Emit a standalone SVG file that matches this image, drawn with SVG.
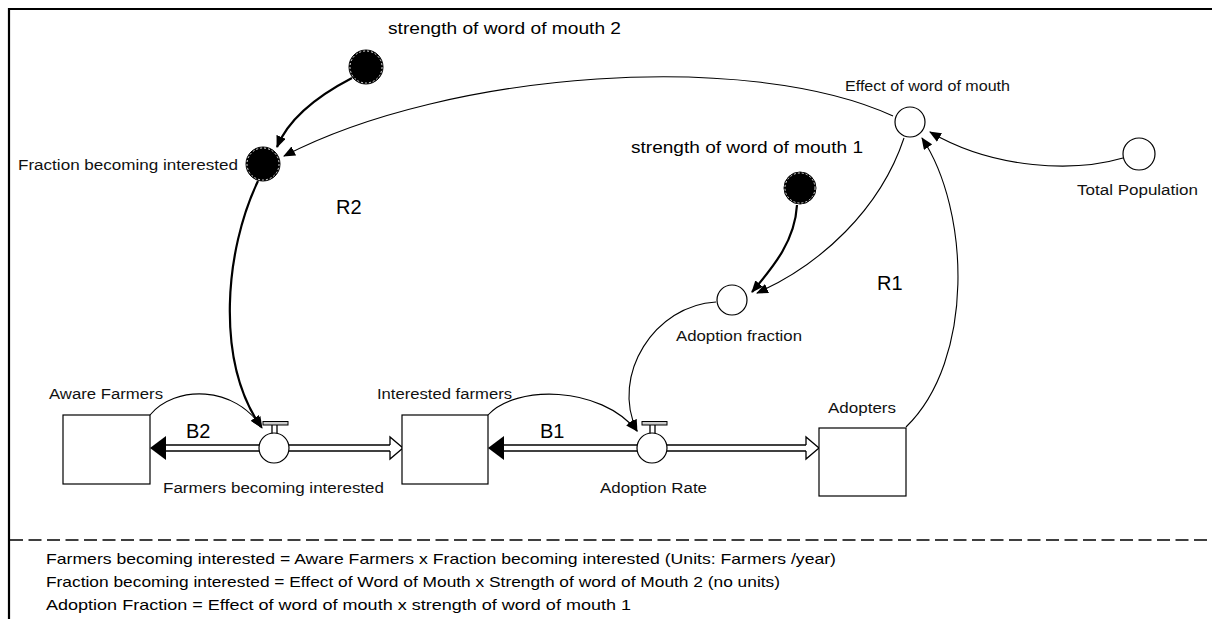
<svg xmlns="http://www.w3.org/2000/svg" width="1212" height="619" viewBox="0 0 1212 619">
<defs>
<style>
.lbl{font-family:"Liberation Sans",Arial,sans-serif;font-size:14px;fill:#111;}
.big{font-family:"Liberation Sans",Arial,sans-serif;font-size:16px;fill:#000;}
.loop{font-family:"Liberation Sans",Arial,sans-serif;font-size:20px;fill:#000;}
.eq{font-family:"Liberation Sans",Arial,sans-serif;font-size:15px;fill:#000;}
.stock{fill:#fff;stroke:#000;stroke-width:1.2;}
.aux{fill:#fff;stroke:#000;stroke-width:1.2;}
.const{fill:#000;stroke:#000;stroke-width:1;}
.constring{fill:none;stroke:#ddd;stroke-width:1;stroke-dasharray:2 2;}
.thin{fill:none;stroke:#000;stroke-width:1.1;}
.thick{fill:none;stroke:#000;stroke-width:2.2;}
.pipe{fill:none;stroke:#000;stroke-width:1.3;}
.bar{fill:#ccc;stroke:#000;stroke-width:1;}
</style>
<marker id="ah" markerWidth="12" markerHeight="10" refX="11" refY="5" orient="auto" markerUnits="userSpaceOnUse">
<path d="M0,0 L12,5 L0,10 z" fill="#000"/>
</marker>
</defs>
<rect x="0" y="0" width="1212" height="619" fill="#fff"/>
<!-- frame -->
<line x1="8" y1="9" x2="1212" y2="9" stroke="#000" stroke-width="2.2"/>
<line x1="9" y1="8" x2="9" y2="619" stroke="#000" stroke-width="2.2"/>
<line x1="10" y1="540" x2="1212" y2="540" stroke="#000" stroke-width="1.4" stroke-dasharray="13 5.5"/>

<g id="connectors">
<path class="thick" d="M352,78 C325,92 290,115 277,147" marker-end="url(#ah)"/>
<path class="thin" d="M893,116 C750,50 450,70 284,156" marker-end="url(#ah)"/>
<path class="thick" d="M258,181 C225,250 215,360 261,427" marker-end="url(#ah)"/>
<path class="thin" d="M150,415 C175,385 235,385 262,428" marker-end="url(#ah)"/>
<path class="thin" d="M488,415 C515,385 600,385 637,431" marker-end="url(#ah)"/>
<path class="thin" d="M716,302 C655,305 610,375 637,431" marker-end="url(#ah)"/>
<path class="thick" d="M797,205 C795,240 775,265 752,292" marker-end="url(#ah)"/>
<path class="thin" d="M904,138 C880,210 820,265 757,293" marker-end="url(#ah)"/>
<path class="thin" d="M906,427 C975,360 970,210 922,138" marker-end="url(#ah)"/>
<path class="thin" d="M1123,158 C1075,172 995,170 930,132" marker-end="url(#ah)"/>
<!-- pipes flow 1 -->
<line class="pipe" x1="164" y1="445" x2="260" y2="445"/>
<line class="pipe" x1="164" y1="451" x2="260" y2="451"/>
<polygon points="150,448 166,436 166,460" fill="#000"/>
<line class="pipe" x1="289" y1="445" x2="390" y2="445"/>
<line class="pipe" x1="289" y1="451" x2="390" y2="451"/>
<polyline class="pipe" points="390,445 390,437 403,448 390,459 390,451" fill="#fff"/>
<!-- pipes flow 2 -->
<line class="pipe" x1="502" y1="445" x2="638" y2="445"/>
<line class="pipe" x1="502" y1="451" x2="638" y2="451"/>
<polygon points="488,448 504,436 504,460" fill="#000"/>
<line class="pipe" x1="667" y1="445" x2="806" y2="445"/>
<line class="pipe" x1="667" y1="451" x2="806" y2="451"/>
<polyline class="pipe" points="806,445 806,437 819,448 806,459 806,451" fill="#fff"/>
</g>

<g id="strength2">
<circle class="const" cx="366" cy="67" r="17"/>
<circle class="constring" cx="366" cy="67" r="16"/>
<text class="big" x="388" y="34" textLength="233" lengthAdjust="spacingAndGlyphs">strength of word of mouth 2</text>
</g>
<g id="fraction-interested">
<circle class="const" cx="263" cy="164" r="17"/>
<circle class="constring" cx="263" cy="164" r="16"/>
<text class="lbl" x="18" y="170" textLength="220" lengthAdjust="spacingAndGlyphs">Fraction becoming interested</text>
</g>
<g id="effect">
<circle class="aux" cx="910" cy="122" r="15"/>
<text class="lbl" x="845" y="91" textLength="165" lengthAdjust="spacingAndGlyphs">Effect of word of mouth</text>
</g>
<g id="total-population">
<circle class="aux" cx="1139" cy="154" r="16"/>
<text class="lbl" x="1077" y="195" textLength="121" lengthAdjust="spacingAndGlyphs">Total Population</text>
</g>
<g id="strength1">
<circle class="const" cx="800" cy="188" r="16"/>
<circle class="constring" cx="800" cy="188" r="15"/>
<text class="big" x="631" y="153" textLength="232" lengthAdjust="spacingAndGlyphs">strength of word of mouth 1</text>
</g>
<g id="adoption-fraction">
<circle class="aux" cx="732" cy="300" r="15"/>
<text class="lbl" x="676" y="341" textLength="126" lengthAdjust="spacingAndGlyphs">Adoption fraction</text>
</g>
<g id="aware-farmers">
<rect class="stock" x="63" y="415" width="87" height="69"/>
<text class="lbl" x="49" y="399" textLength="114" lengthAdjust="spacingAndGlyphs">Aware Farmers</text>
</g>
<g id="interested-farmers">
<rect class="stock" x="402" y="415" width="86" height="69"/>
<text class="lbl" x="377" y="399" textLength="135" lengthAdjust="spacingAndGlyphs">Interested farmers</text>
</g>
<g id="adopters">
<rect class="stock" x="819" y="428" width="87" height="68"/>
<text class="lbl" x="828" y="413" textLength="68" lengthAdjust="spacingAndGlyphs">Adopters</text>
</g>
<g id="farmers-becoming-interested">
<circle class="aux" cx="274" cy="448" r="15"/>
<line class="pipe" x1="272" y1="425" x2="272" y2="433.5"/>
<line class="pipe" x1="277" y1="425" x2="277" y2="433.5"/>
<rect class="bar" x="263" y="421.5" width="25" height="3.5"/>
<text class="lbl" x="163" y="493" textLength="221" lengthAdjust="spacingAndGlyphs">Farmers becoming interested</text>
</g>
<g id="adoption-rate">
<circle class="aux" cx="652" cy="448" r="15"/>
<line class="pipe" x1="650" y1="425" x2="650" y2="433.5"/>
<line class="pipe" x1="655" y1="425" x2="655" y2="433.5"/>
<rect class="bar" x="642" y="421.5" width="25" height="3.5"/>
<text class="lbl" x="600" y="493" textLength="107" lengthAdjust="spacingAndGlyphs">Adoption Rate</text>
</g>

<g id="loop-labels">
<text class="loop" x="186" y="438">B2</text>
<text class="loop" x="540" y="438">B1</text>
<text class="loop" x="336" y="214">R2</text>
<text class="loop" x="877" y="290">R1</text>
</g>

<g id="equations">
<text class="eq" x="46" y="564" textLength="790" lengthAdjust="spacingAndGlyphs">Farmers becoming interested = Aware Farmers x Fraction becoming interested (Units: Farmers /year)</text>
<text class="eq" x="46" y="587" textLength="734" lengthAdjust="spacingAndGlyphs">Fraction becoming interested = Effect of Word of Mouth x Strength of word of Mouth 2 (no units)</text>
<text class="eq" x="46" y="610" textLength="585" lengthAdjust="spacingAndGlyphs">Adoption Fraction = Effect of word of mouth x strength of word of mouth 1</text>
</g>
</svg>
